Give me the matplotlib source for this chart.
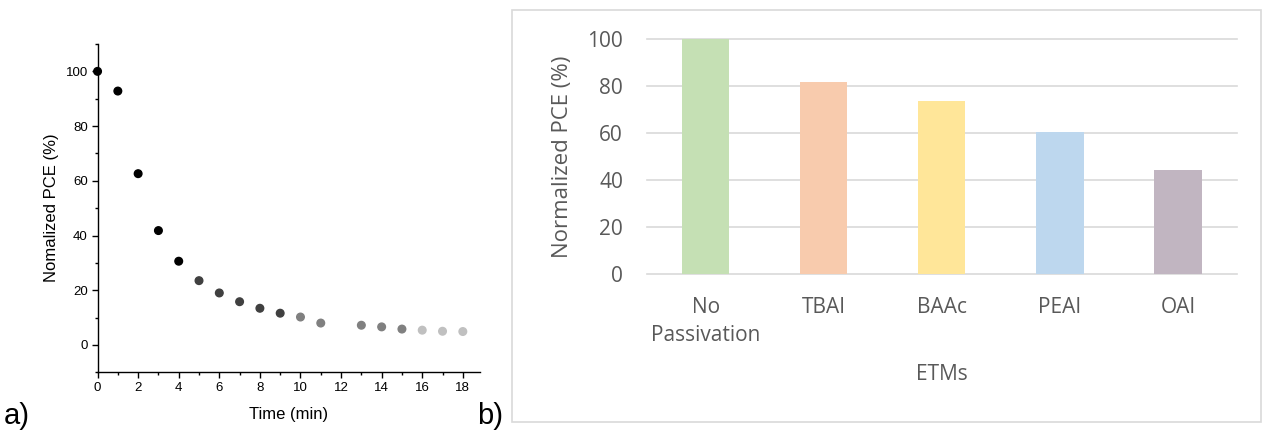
import matplotlib
matplotlib.use('Agg')
import matplotlib.pyplot as plt
from matplotlib.patches import Rectangle
from matplotlib.ticker import MultipleLocator

# (a) PCE decay over time
time_min = [0, 1, 2, 3, 4, 5, 6, 7, 8, 9, 10, 11, 13, 14, 15, 16, 17, 18]
pce_decay = [100, 92.8, 62.6, 41.8, 30.6, 23.5, 19.0, 15.8, 13.4, 11.6,
             10.2, 8.0, 7.2, 6.6, 5.8, 5.4, 5.0, 4.9]
dot_colors = (['#000000'] * 5 + ['#404040'] * 5 + ['#808080'] * 5
              + ['#c0c0c0'] * 3)

# (b) PCE after passivation
etms = ['No\nPassivation', 'TBAI', 'BAAc', 'PEAI', 'OAI']
pce_etm = [100, 81.8, 73.8, 60.6, 44.4]
bar_colors = ['#c5e0b4', '#f8cbad', '#ffe699', '#bdd7ee', '#c1b5c1']

plt.rcParams['font.family'] = ['Liberation Sans', 'DejaVu Sans']
excel_font = 'Open Sans'
excel_grey = '#595959'

fig = plt.figure(figsize=(12.62, 4.30), dpi=100)

# ---------------- panel a ----------------
ax1 = fig.add_axes([0.0773, 0.1342, 0.3031, 0.7635])
ax1.scatter(time_min, pce_decay, s=30, c=dot_colors, zorder=3, clip_on=False)
ax1.set_xlim(0, 18.85)
ax1.set_ylim(-10, 110)
ax1.xaxis.set_major_locator(MultipleLocator(2))
ax1.xaxis.set_minor_locator(MultipleLocator(1))
ax1.yaxis.set_major_locator(MultipleLocator(20))
ax1.yaxis.set_minor_locator(MultipleLocator(10))
ax1.spines['top'].set_visible(False)
ax1.spines['right'].set_visible(False)
for sp in ('left', 'bottom'):
    ax1.spines[sp].set_linewidth(1.0)
ax1.tick_params(which='major', length=4, width=1, labelsize=9.5, pad=3)
ax1.tick_params(which='minor', length=2.5, width=1)
ax1.set_xlabel('Time (min)', fontsize=12, labelpad=9)
ax1.set_ylabel('Nomalized PCE (%)', fontsize=12, labelpad=5)

fig.text(4 / 1262, 1 - 424 / 430, 'a)', fontsize=21, ha='left', va='baseline')
fig.text(477 / 1262, 1 - 424 / 430, 'b)', fontsize=21, ha='left', va='baseline')

# ---------------- panel b ----------------
fig.add_artist(Rectangle((512 / 1262, 1 - 422 / 430), 749 / 1262, 412 / 430,
                         transform=fig.transFigure, fill=False,
                         edgecolor='#d9d9d9', linewidth=1.2))

ax2 = fig.add_axes([646.7 / 1262, 1 - 274.3 / 430, 590.3 / 1262, 235 / 430])
ax2.bar(range(len(etms)), pce_etm, width=0.4, color=bar_colors, zorder=3)
ax2.set_xlim(-0.5, 4.5)
ax2.set_ylim(0, 100)
ax2.set_yticks(range(0, 101, 20))
ax2.set_xticks(range(len(etms)))
ax2.set_xticklabels(etms, linespacing=1.45)
ax2.grid(axis='y', color='#d9d9d9', linewidth=1.2, zorder=0)
for gl in ax2.get_ygridlines():
    gl.set_clip_on(False)
for sp in ax2.spines.values():
    sp.set_visible(False)
ax2.tick_params(length=0, labelsize=15, labelcolor=excel_grey)
ax2.tick_params(axis='y', pad=17)
ax2.tick_params(axis='x', pad=16)
for lbl in ax2.get_xticklabels() + ax2.get_yticklabels():
    lbl.set_family(excel_font)
ax2.set_xlabel('ETMs', fontsize=15, color=excel_grey, family=excel_font,
               labelpad=13)
ax2.set_ylabel('Normalized PCE (%)', fontsize=16, color=excel_grey,
               family=excel_font, labelpad=10)

fig.savefig('out.png', dpi=100)
